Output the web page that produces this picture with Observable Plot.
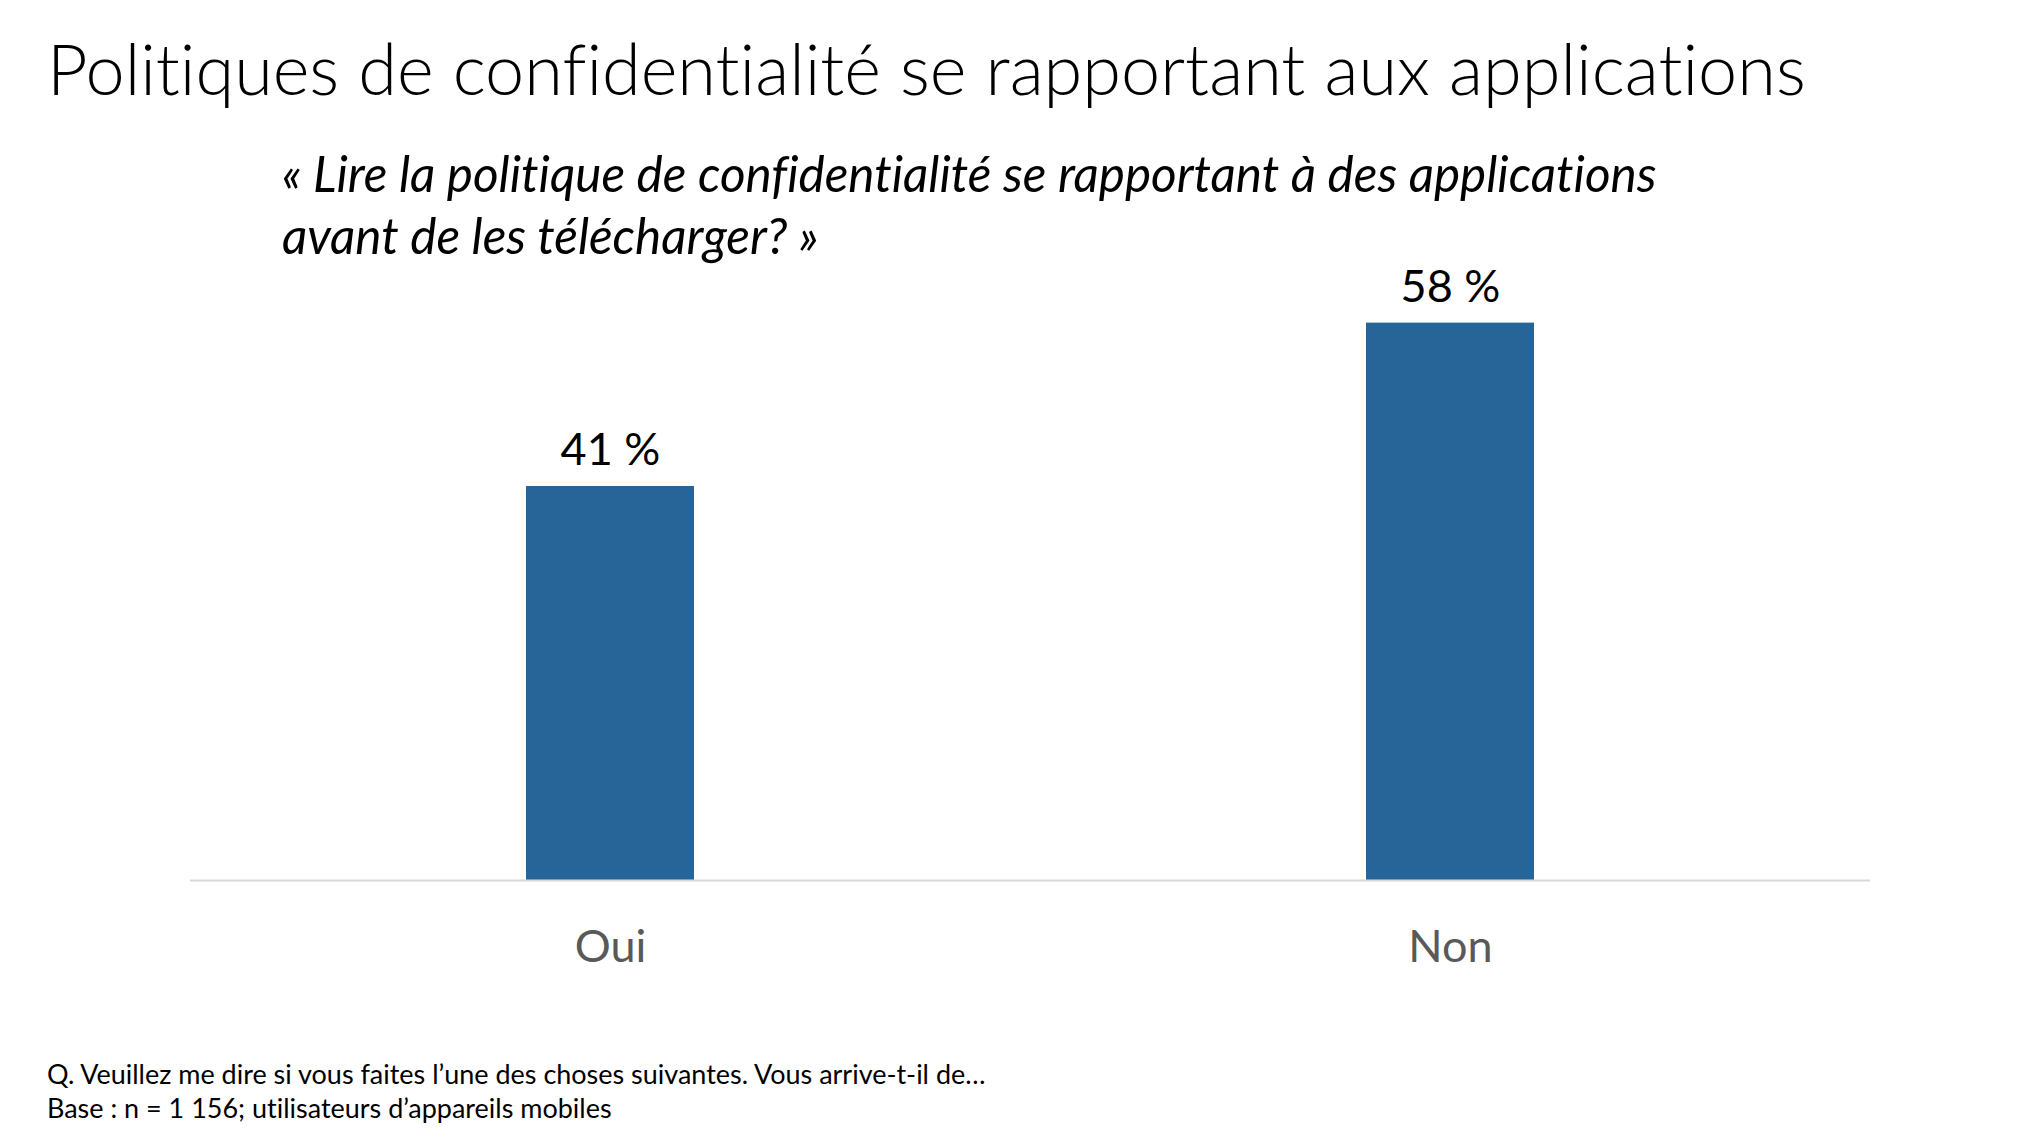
<!DOCTYPE html>
<html><head><meta charset="utf-8">
<script src="https://cdn.jsdelivr.net/npm/d3@7"></script>
<script src="https://cdn.jsdelivr.net/npm/@observablehq/plot@0.6"></script>
<style>
body{margin:0;width:2030px;height:1141px;background:#fff;position:relative;overflow:hidden;font-family:Lato,"Open Sans",sans-serif;color:#000;font-variant-ligatures:none;}
.t{position:absolute;white-space:nowrap;line-height:1;}
#title{left:47px;top:33px;font-size:80px;font-weight:300;}
#sub{left:282px;top:142px;font-style:italic;font-size:46px;line-height:62px;}
#chart{position:absolute;left:0;top:260px;}
#foot{left:47px;top:1057px;font-size:24px;line-height:33.7px;}
</style>
</head><body>
<div id="title" class="t">Politiques de confidentialité se rapportant aux applications</div>
<div id="sub" class="t"><span id="sub1">« Lire la politique de confidentialité se rapportant à des applications</span><br><span>avant de les télécharger? »</span></div>
<div id="chart"></div>
<div id="foot" class="t"><span id="foot1">Q. Veuillez me dire si vous faites l’une des choses suivantes. Vous arrive-t-il de…</span><br><span>Base : n = 1 156; utilisateurs d’appareils mobiles</span></div>
<script>
const categories = ["Oui", "Non"];
const values = [41, 58];
const valueLabels = ["41 %", "58 %"];
const data = categories.map((c, i) => ({cat: c, value: values[i], label: valueLabels[i]}));

function fit(el, target, box) {
  const w = el.getBoundingClientRect().width;
  const b = box || el;
  const fs = parseFloat(getComputedStyle(b).fontSize);
  b.style.fontSize = (fs * target / w) + "px";
}
fit(document.getElementById("title"), 1759);
fit(document.getElementById("sub1"), 1375, document.getElementById("sub"));
fit(document.getElementById("foot1"), 939, document.getElementById("foot"));

const chart = Plot.plot({
  width: 2030,
  height: 780,
  marginLeft: 190,
  marginRight: 160,
  marginTop: 43.4,
  marginBottom: 160,
  x: {domain: categories, paddingInner: 0.8, paddingOuter: 0.4, label: null},
  y: {domain: [0, 60], axis: null},
  style: {fontFamily: "Lato, 'Open Sans', sans-serif", background: "transparent", overflow: "visible"},
  marks: [
    Plot.barY(data, {x: "cat", y: "value", fill: "#276599"}),
    Plot.ruleY([0], {stroke: "#d9d9d9", strokeWidth: 2}),
    Plot.text(data, {x: "cat", y: "value", text: "label", dy: -36, fontSize: 45, fill: "#000"}),
    Plot.axisX({tickSize: 0, tickPadding: 50, fontSize: 45, color: "#595959", label: null})
  ]
});
document.getElementById("chart").appendChild(chart);
</script>
</body></html>
